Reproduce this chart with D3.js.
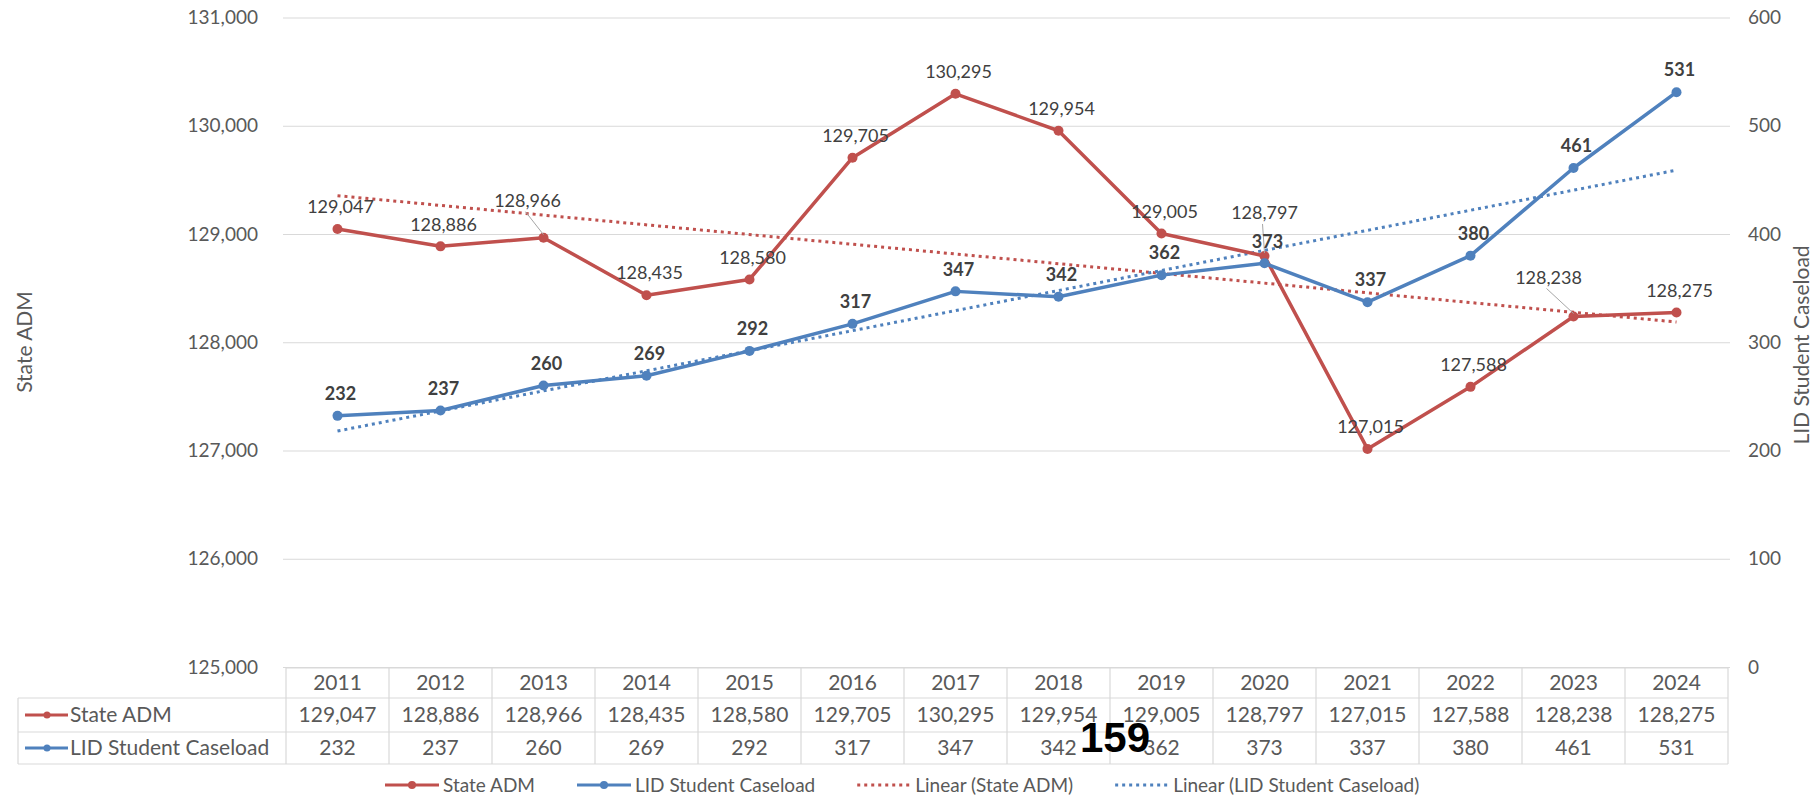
<!DOCTYPE html>
<html>
<head>
<meta charset="utf-8">
<script src="https://cdnjs.cloudflare.com/ajax/libs/d3/7.8.5/d3.min.js"></script>
<style>
  body { margin: 0; background: #fff; }
  svg text { font-family: Lato, "Open Sans", sans-serif; }
</style>
</head>
<body>
<svg id="chart" width="1819" height="799"></svg>
<script>
// data
var years = [2011, 2012, 2013, 2014, 2015, 2016, 2017, 2018, 2019, 2020, 2021, 2022, 2023, 2024];
var stateADM = [129047, 128886, 128966, 128435, 128580, 129705, 130295, 129954, 129005, 128797, 127015, 127588, 128238, 128275];
var lidCaseload = [232, 237, 260, 269, 292, 317, 347, 342, 362, 373, 337, 380, 461, 531];
var leftTicks = [125000, 126000, 127000, 128000, 129000, 130000, 131000];
var rightTicks = [0, 100, 200, 300, 400, 500, 600];
// linear trend lines, start and end values
var stateTrend = [129354, 128187];
var lidTrend = [218, 459];
var seriesNames = ['State ADM', 'LID Student Caseload'];
var legendNames = ['State ADM', 'LID Student Caseload', 'Linear (State ADM)', 'Linear (LID Student Caseload)'];

var red = '#c0504d', blue = '#4f81bd';
var textGray = '#595959', labelGray = '#404040', gridGray = '#d9d9d9';

var svg = d3.select('#chart');

var plotLeft = 283, plotRight = 1730;
var x = d3.scaleBand().domain(years).range([286, 1728]);
var yL = d3.scaleLinear().domain([125000, 131000]).range([667, 17.5]);
var yR = d3.scaleLinear().domain([0, 600]).range([667, 17.5]);
var cx = function(i) { return x(years[i]) + x.bandwidth() / 2; };

// gridlines
svg.append('g')
    .attr('transform', 'translate(' + plotLeft + ',0)')
    .call(d3.axisLeft(yL).tickValues(leftTicks).tickSize(-(plotRight - plotLeft)).tickFormat(''))
    .call(function(g) { g.select('.domain').remove(); })
    .selectAll('line').attr('stroke', gridGray).attr('stroke-width', 1.2);

// left axis
svg.append('g')
    .attr('transform', 'translate(' + plotLeft + ',0)')
    .call(d3.axisLeft(yL).tickValues(leftTicks).tickSize(0).tickPadding(25).tickFormat(d3.format(',')))
    .call(function(g) { g.select('.domain').remove(); })
    .selectAll('text').attr('fill', textGray).style('font-size', '19px');

// right axis
svg.append('g')
    .attr('transform', 'translate(' + plotRight + ',0)')
    .call(d3.axisRight(yR).tickValues(rightTicks).tickSize(0).tickPadding(18))
    .call(function(g) { g.select('.domain').remove(); })
    .selectAll('text').attr('fill', textGray).style('font-size', '19px');

// axis titles
svg.append('text')
    .attr('transform', 'translate(25,342) rotate(-90)')
    .attr('text-anchor', 'middle').attr('dy', '0.35em')
    .attr('fill', textGray).style('font-size', '21px')
    .text('State ADM');
svg.append('text')
    .attr('transform', 'translate(1802,345) rotate(-90)')
    .attr('text-anchor', 'middle').attr('dy', '0.35em')
    .attr('fill', textGray).style('font-size', '21px')
    .text('LID Student Caseload');

// trend lines
var trendLine = d3.line().x(function(d) { return d[0]; }).y(function(d) { return d[1]; });
svg.append('path')
    .attr('d', trendLine([[cx(0), yL(stateTrend[0])], [cx(years.length - 1), yL(stateTrend[1])]]))
    .attr('fill', 'none').attr('stroke', red).attr('stroke-width', 3).attr('stroke-dasharray', '3,4');
svg.append('path')
    .attr('d', trendLine([[cx(0), yR(lidTrend[0])], [cx(years.length - 1), yR(lidTrend[1])]]))
    .attr('fill', 'none').attr('stroke', blue).attr('stroke-width', 3).attr('stroke-dasharray', '3,4');

// series lines
var drawSeries = function(values, y, color) {
  var line = d3.line().x(function(d, i) { return cx(i); }).y(function(d) { return y(d); });
  svg.append('path').datum(values)
      .attr('d', line)
      .attr('fill', 'none').attr('stroke', color).attr('stroke-width', 3.5)
      .attr('stroke-linejoin', 'round');
  svg.append('g').selectAll('circle').data(values).enter().append('circle')
      .attr('cx', function(d, i) { return cx(i); })
      .attr('cy', function(d) { return y(d); })
      .attr('r', 5)
      .attr('fill', color);
};
drawSeries(stateADM, yL, red);
drawSeries(lidCaseload, yR, blue);

// data labels
var redOffsets = { 2: [-16, -37], 9: [0, -43], 12: [-25, -39] };
var fmt = d3.format(',');
stateADM.forEach(function(v, i) {
  var px = cx(i), py = yL(v);
  var off = redOffsets[i] || [3, -22];
  var lx = px + off[0], ly = py + off[1];
  if (redOffsets[i]) {
    svg.append('line')
        .attr('x1', lx - 2).attr('y1', ly + 11)
        .attr('x2', px).attr('y2', py - 3)
        .attr('stroke', '#a6a6a6').attr('stroke-width', 1);
  }
  svg.append('text')
      .attr('x', lx).attr('y', ly).attr('dy', '0.35em')
      .attr('text-anchor', 'middle')
      .attr('fill', labelGray).style('font-size', '18px')
      .text(fmt(v));
});
lidCaseload.forEach(function(v, i) {
  svg.append('text')
      .attr('x', cx(i) + 3).attr('y', yR(v) - 22).attr('dy', '0.35em')
      .attr('text-anchor', 'middle')
      .attr('fill', labelGray).style('font-size', '18px').style('font-weight', 'bold')
      .text(v);
});

// data table
var tableTop = 668, rowLines = [698, 732, 764], tableLeft = 18, labelRight = x(years[0]), tableRight = 1728;
var tbl = svg.append('g').attr('stroke', gridGray).attr('stroke-width', 1.2);
tbl.append('line').attr('x1', labelRight).attr('x2', tableRight).attr('y1', tableTop).attr('y2', tableTop);
rowLines.forEach(function(y) {
  tbl.append('line').attr('x1', tableLeft).attr('x2', tableRight).attr('y1', y).attr('y2', y);
});
tbl.append('line').attr('x1', tableLeft).attr('x2', tableLeft).attr('y1', rowLines[0]).attr('y2', rowLines[2]);
years.concat(['end']).forEach(function(yr) {
  var xx = yr === 'end' ? tableRight : x(yr);
  tbl.append('line').attr('x1', xx).attr('x2', xx).attr('y1', tableTop).attr('y2', rowLines[2]);
});

var rowCenters = [(tableTop + rowLines[0]) / 2, (rowLines[0] + rowLines[1]) / 2, (rowLines[1] + rowLines[2]) / 2];
var tableRows = [years, stateADM.map(fmt), lidCaseload];
tableRows.forEach(function(row, r) {
  svg.append('g').selectAll('text').data(row).enter().append('text')
      .attr('x', function(d, i) { return cx(i); })
      .attr('y', rowCenters[r]).attr('dy', '0.35em')
      .attr('text-anchor', 'middle')
      .attr('fill', textGray).style('font-size', '21px')
      .text(function(d) { return d; });
});

// row headers with legend keys
[red, blue].forEach(function(color, r) {
  var yy = rowCenters[r + 1];
  svg.append('line').attr('x1', 25).attr('x2', 68).attr('y1', yy).attr('y2', yy)
      .attr('stroke', color).attr('stroke-width', 3);
  svg.append('circle').attr('cx', 47).attr('cy', yy).attr('r', 3.5).attr('fill', color);
  svg.append('text').attr('x', 70).attr('y', yy).attr('dy', '0.35em')
      .attr('fill', textGray).style('font-size', '21px')
      .text(seriesNames[r]);
});

// legend
var legendColors = [red, blue, red, blue];
var legendY = 785, lx = 385;
legendNames.forEach(function(name, i) {
  var g = svg.append('g');
  var dotted = i >= 2;
  g.append('line').attr('x1', lx).attr('x2', lx + 54).attr('y1', legendY).attr('y2', legendY)
      .attr('stroke', legendColors[i]).attr('stroke-width', 3)
      .attr('stroke-dasharray', dotted ? '3,4' : null);
  if (!dotted) g.append('circle').attr('cx', lx + 27).attr('cy', legendY).attr('r', 4).attr('fill', legendColors[i]);
  var t = g.append('text').attr('x', lx + 58).attr('y', legendY).attr('dy', '0.35em')
      .attr('fill', textGray).style('font-size', '19px')
      .text(name);
  lx = lx + 58 + t.node().getComputedTextLength() + 42;
});

// page number stamped over the table
svg.append('text')
    .attr('x', 1115).attr('y', 752)
    .attr('text-anchor', 'middle')
    .style('font-family', '"Liberation Sans", Arial, sans-serif')
    .style('font-size', '42px').style('font-weight', 'bold')
    .attr('fill', '#000')
    .text('159');
</script>
</body>
</html>
